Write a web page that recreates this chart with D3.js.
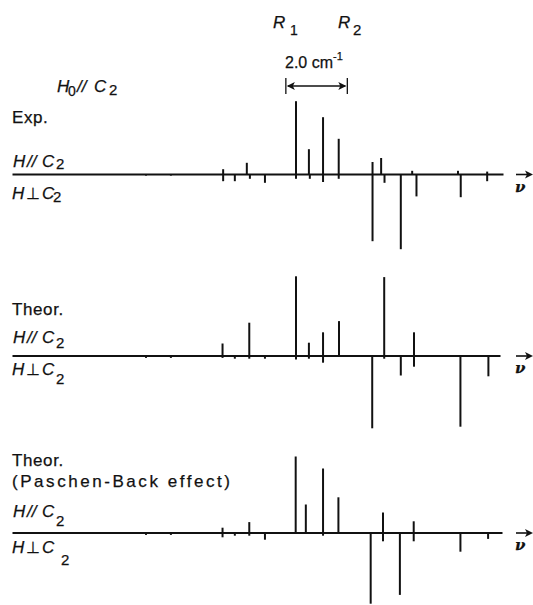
<!DOCTYPE html>
<html>
<head>
<meta charset="utf-8">
<script src="https://cdn.jsdelivr.net/npm/d3@7"></script>
<style>
  html, body { margin: 0; padding: 0; background: #fff; }
  svg { display: block; }
  text { font-family: "Liberation Sans", Arial, sans-serif; fill: #111; stroke: #111; stroke-width: 0.25px; }
</style>
</head>
<body>
<div id="chart"></div>
<script>
// ---------------- DATA ----------------
// line position: wavenumber offset (cm^-1) from left end of 2.0 cm^-1 scale bar
// intensity: relative units (0-100)
const expPar = [[-2.04, 6], [-1.27, 14], [0.33, 91], [0.75, 31], [1.21, 71], [1.72, 44],
  [2.82, 15], [3.10, 20], [4.11, 4], [5.60, 4], [6.55, 3]];
const expPerp = [[-4.55, 2], [-3.74, 2], [-2.04, 9], [-1.66, 9], [-1.17, 6], [-0.68, 11], [0.33, 6],
  [0.78, 6], [1.21, 10], [1.72, 6], [2.82, 84], [3.21, 11], [3.74, 94], [4.25, 28],
  [5.69, 29], [6.55, 9]];

const theoPar = [[-2.06, 15], [-1.19, 41], [0.33, 99], [0.75, 16], [1.21, 29], [1.73, 43],
  [3.20, 98], [4.17, 29]];
const theoPerp = [[-4.55, 3], [-3.74, 3], [-2.06, 3], [-1.66, 4], [-1.19, 4], [-0.68, 4],
  [0.33, 5], [0.75, 4], [1.21, 9], [2.81, 91], [3.20, 4], [3.74, 25], [4.17, 14],
  [5.68, 89], [6.59, 26]];

const pbPar = [[-2.06, 6], [-1.19, 13], [0.32, 95], [0.65, 35], [1.21, 80], [1.71, 44],
  [3.16, 25], [4.16, 14]];
const pbPerp = [[-4.55, 3], [-3.74, 3], [-2.06, 6], [-1.66, 4], [-1.19, 4], [-0.68, 9],
  [1.21, 4], [2.76, 89], [3.16, 11], [3.71, 78], [4.16, 11], [5.68, 24], [6.58, 8]];

const panelTitles = ["Exp.", "Theor.", "Theor."];
const panelSubtitles = ["", "", "(Paschen-Back effect)"];
const freqDomain = [-8.91, 7.0];
const scaleBar = [0, 2.0];
const scaleBarLabel = "2.0 cm";
const scaleBarExp = "-1";
const lineLabels = [{ name: "R", sub: "1" }, { name: "R", sub: "2" }];

// ---------------- LAYOUT ----------------
const W = 533, H = 605;
const svg = d3.select("#chart").append("svg").attr("width", W).attr("height", H);

const x = d3.scaleLinear().domain(freqDomain).range([12, 501]);
const h = d3.scaleLinear().domain([0, 100]).range([0, 80]);

const panels = [
  { par: expPar, perp: expPerp, base: 174, end: 503, title: panelTitles[0], sub: panelSubtitles[0],
    titleY: 123, subY: 0, parY: 166.5, parSubY: 169, perpY: 198.5, perpSubY: 201.5, perpSubX: 53 },
  { par: theoPar, perp: theoPerp, base: 355.5, end: 500, title: panelTitles[1], sub: panelSubtitles[1],
    titleY: 315, subY: 0, parY: 343, parSubY: 348, perpY: 375, perpSubY: 384, perpSubX: 56 },
  { par: pbPar, perp: pbPerp, base: 532.5, end: 502, title: panelTitles[2], sub: panelSubtitles[2],
    titleY: 466, subY: 487, parY: 517, parSubY: 526, perpY: 553, perpSubY: 565, perpSubX: 61 }
];

function seg(g, parts, y) {
  const t = g.append("text").attr("y", y);
  parts.forEach(p => {
    t.append("tspan")
      .attr("x", p.x)
      .attr("y", p.y != null ? p.y : y)
      .style("font-style", p.i ? "italic" : "normal")
      .style("font-size", (p.s || 16) + "px")
      .text(p.t);
  });
  return t;
}

panels.forEach(p => {
  const g = svg.append("g");
  // baseline as axis domain
  const xa = d3.scaleLinear().domain([freqDomain[0], x.invert(p.end)]).range([12, p.end]);
  const ax = g.append("g").attr("transform", `translate(0,${p.base})`)
    .call(d3.axisBottom(xa).tickValues([]).tickSizeOuter(0));
  ax.select(".domain").attr("stroke", "#111").attr("stroke-width", 2.2);

  // parallel (up) lines
  g.selectAll("line.par").data(p.par).enter().append("line")
    .attr("class", "par")
    .attr("x1", d => x(d[0])).attr("x2", d => x(d[0]))
    .attr("y1", p.base).attr("y2", d => p.base - h(d[1]))
    .attr("stroke", "#111").attr("stroke-width", 2);
  // perpendicular (down) lines
  g.selectAll("line.perp").data(p.perp).enter().append("line")
    .attr("class", "perp")
    .attr("x1", d => x(d[0])).attr("x2", d => x(d[0]))
    .attr("y1", p.base).attr("y2", d => p.base + h(d[1]))
    .attr("stroke", "#111").attr("stroke-width", 2);

  // left labels
  g.append("text").attr("x", 12).attr("y", p.titleY)
    .style("font-size", "17px").style("letter-spacing", "0.6px").text(p.title);
  if (p.sub) {
    g.append("text").attr("x", 12).attr("y", p.subY)
      .style("font-size", "17px")
      .attr("textLength", 218).attr("lengthAdjust", "spacing").text(p.sub);
  }
  seg(g, [
    { t: "H", x: 13, i: true, s: 17 },
    { t: "//", x: 27, i: true, s: 17 },
    { t: "C", x: 42, i: true, s: 17 },
    { t: "2", x: 56, y: p.parSubY, s: 15 }
  ], p.parY);
  seg(g, [
    { t: "H", x: 12, i: true, s: 17 },
    { t: "\u22A5", x: 26, s: 16 },
    { t: "C", x: 42, i: true, s: 17 },
    { t: "2", x: p.perpSubX, y: p.perpSubY, s: 15 }
  ], p.perpY);

  // nu arrow
  const ay = p.base + 0.5;
  g.append("line").attr("x1", 516).attr("x2", 530).attr("y1", ay).attr("y2", ay)
    .attr("stroke", "#111").attr("stroke-width", 1.6);
  g.append("path").attr("d", `M533,${ay} L525,${ay - 4} L527,${ay} L525,${ay + 4} Z`).attr("fill", "#111");
  g.append("text").attr("x", 515).attr("y", ay + 17)
    .style("font-family", "'DejaVu Serif', serif").style("font-style", "italic")
    .style("font-weight", "bold").style("font-size", "15px").text("\u03BD");
});

// top-left field orientation label: H0 // C2
seg(svg, [
  { t: "H", x: 57, i: true, s: 17 },
  { t: "0", x: 68, y: 96, s: 14 },
  { t: "//", x: 77, i: true, s: 17 },
  { t: "C", x: 94, i: true, s: 17 },
  { t: "2", x: 109, y: 95, s: 15 }
], 92);

// R1, R2 labels
seg(svg, [
  { t: lineLabels[0].name, x: 273, i: true, s: 17 },
  { t: lineLabels[0].sub, x: 290, y: 35, s: 14 },
  { t: lineLabels[1].name, x: 338, i: true, s: 17 },
  { t: lineLabels[1].sub, x: 353, y: 35, s: 15 }
], 28);

// scale bar 2.0 cm^-1
const sb0 = x(scaleBar[0]), sb1 = x(scaleBar[1]), sby = 86;
const sbg = svg.append("g").attr("stroke", "#111");
sbg.append("line").attr("x1", sb0).attr("x2", sb0).attr("y1", 78).attr("y2", 94).attr("stroke-width", 1.3);
sbg.append("line").attr("x1", sb1).attr("x2", sb1).attr("y1", 78).attr("y2", 94).attr("stroke-width", 1.3);
sbg.append("line").attr("x1", sb0 + 2).attr("x2", sb1 - 2).attr("y1", sby).attr("y2", sby).attr("stroke-width", 1.3);
svg.append("path").attr("d", `M${sb0 + 1},${sby} L${sb0 + 9},${sby - 4} L${sb0 + 7},${sby} L${sb0 + 9},${sby + 4} Z`).attr("fill", "#111");
svg.append("path").attr("d", `M${sb1 - 1},${sby} L${sb1 - 9},${sby - 4} L${sb1 - 7},${sby} L${sb1 - 9},${sby + 4} Z`).attr("fill", "#111");
const sbt = svg.append("text").attr("x", 285).attr("y", 68).style("font-size", "16px");
sbt.append("tspan").text(scaleBarLabel);
sbt.append("tspan").attr("dy", -8).style("font-size", "11px").text(scaleBarExp);
</script>
</body>
</html>
